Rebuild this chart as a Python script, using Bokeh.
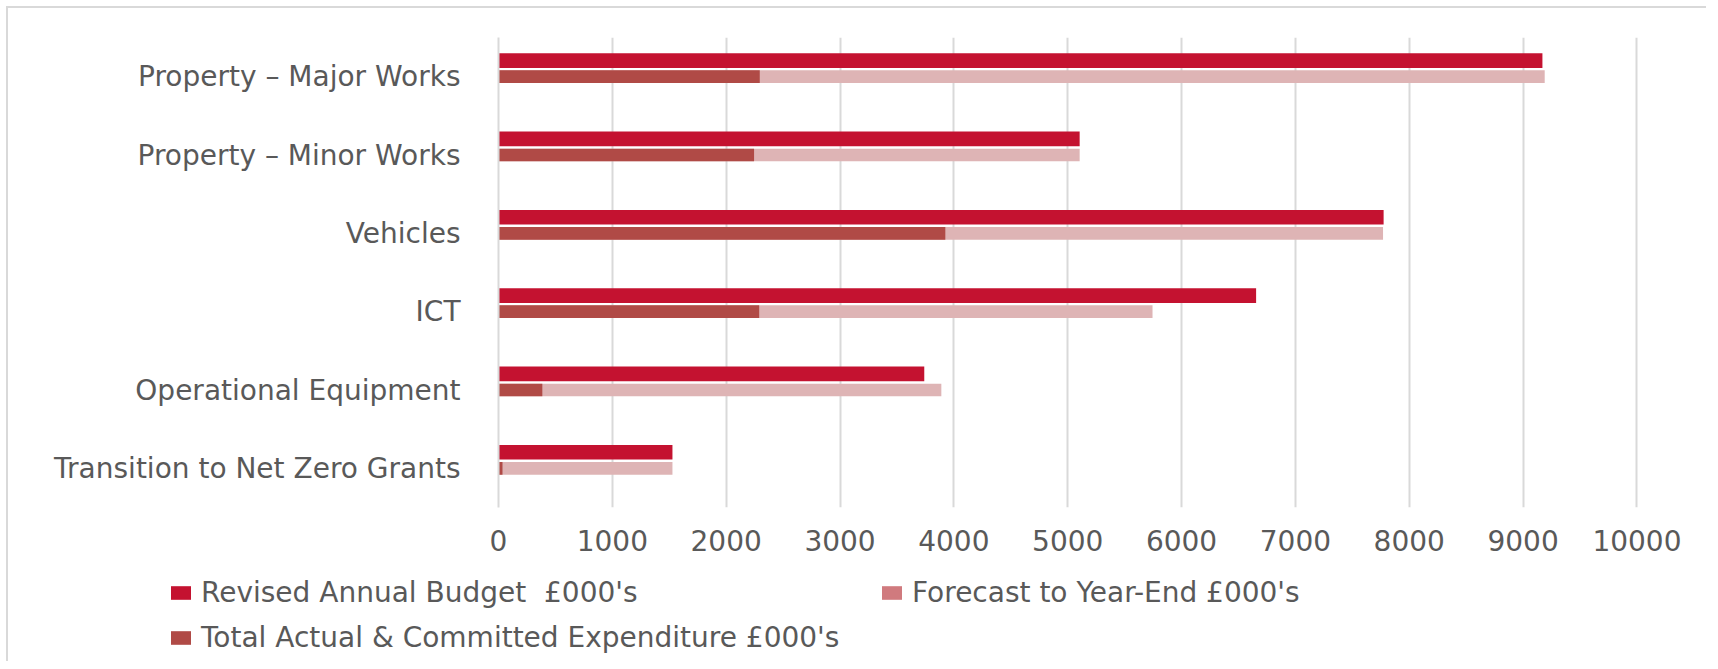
from bokeh.plotting import figure
from bokeh.models import FactorRange, Range1d, FixedTicker, Legend, LegendItem, ColumnDataSource
from bokeh.transform import dodge
from bokeh.embed import file_html
from bokeh.resources import INLINE

# ---- data ----
categories = [
    "Property – Major Works",
    "Property – Minor Works",
    "Vehicles",
    "ICT",
    "Operational Equipment",
    "Transition to Net Zero Grants",
]
budget = [9170, 5105, 7775, 6655, 3740, 1528]
forecast = [9190, 5105, 7770, 5745, 3890, 1528]
actual = [2295, 2245, 3925, 2290, 385, 35]
tick_values = [0, 1000, 2000, 3000, 4000, 5000, 6000, 7000, 8000, 9000, 10000]
series_names = [
    "Revised Annual Budget  £000's",
    "Forecast to Year-End £000's",
    "Total Actual & Committed Expenditure £000's",
]

# ---- style ----
FONT = "DejaVu Sans"
FSIZE = "28px"
TEXT = "#595959"
GRID = "#D9D9D9"
C_BUDGET = "#C41230"
C_FORECAST = "#DEB4B5"
C_FORECAST_KEY = "#D07A7E"
C_ACTUAL = "#B04A46"

src = ColumnDataSource(dict(cat=categories, budget=budget, forecast=forecast, actual=actual))

W, H = 1700, 560
p = figure(
    width=W, height=H,
    y_range=FactorRange(factors=categories[::-1]),
    x_range=Range1d(0, 10541),
    output_backend="svg", toolbar_location=None,
    min_border_left=490, min_border_right=10, min_border_top=29, min_border_bottom=61,
)
p.outline_line_color = None
p.background_fill_color = "white"
p.border_fill_color = "white"
p.styles = {"border-top": "2px solid #D9D9D9", "border-left": "2px solid #D9D9D9",
            "margin-left": "6px", "margin-top": "6px"}

p.hbar(y=dodge("cat", 0.205, range=p.y_range), left=0, right="budget", height=0.187,
       source=src, fill_color=C_BUDGET, line_color=None)
p.hbar(y=dodge("cat", 0.0, range=p.y_range), left=0, right="forecast", height=0.162,
       source=src, fill_color=C_FORECAST, line_color=None)
p.hbar(y=dodge("cat", 0.0, range=p.y_range), left=0, right="actual", height=0.162,
       source=src, fill_color=C_ACTUAL, line_color=None)

# axes
p.xaxis.ticker = FixedTicker(ticks=tick_values)
p.xaxis.axis_line_color = None
p.xaxis.major_tick_line_color = None
p.xaxis.minor_tick_line_color = None
p.xaxis.major_label_standoff = 16
p.xaxis.major_label_text_font = FONT
p.xaxis.major_label_text_font_size = FSIZE
p.xaxis.major_label_text_color = TEXT

p.yaxis.axis_line_color = GRID
p.yaxis.axis_line_width = 2
p.yaxis.major_tick_line_color = None
p.yaxis.minor_tick_line_color = None
p.yaxis.major_label_standoff = 32
p.yaxis.major_label_text_font = FONT
p.yaxis.major_label_text_font_size = FSIZE
p.yaxis.major_label_text_color = TEXT

p.xgrid.ticker = FixedTicker(ticks=tick_values)
p.xgrid.grid_line_color = GRID
p.xgrid.grid_line_width = 2
p.ygrid.grid_line_color = None

# ---- legend strip below the chart (separate root, frame = whole canvas) ----
LW, LH = 1700, 95
pl = figure(width=LW, height=LH, x_range=Range1d(0, LW), y_range=Range1d(0, LH),
            output_backend="svg", toolbar_location=None, min_border=0,
            x_axis_type=None, y_axis_type=None)
pl.outline_line_color = None
pl.xgrid.grid_line_color = None
pl.ygrid.grid_line_color = None
pl.styles = {"border-left": "2px solid #D9D9D9", "margin-left": "6px"}
# key renderers: one point each, placed outside the visible range
k_budget = pl.hbar(y=[-500], left=[0], right=[1], height=1, fill_color=C_BUDGET, line_color=None)
k_fore = pl.hbar(y=[-500], left=[0], right=[1], height=1, fill_color=C_FORECAST_KEY, line_color=None)
k_act = pl.hbar(y=[-500], left=[0], right=[1], height=1, fill_color=C_ACTUAL, line_color=None)


def make_legend(items, loc, label_width):
    lg = Legend(items=items, location=loc, orientation="horizontal")
    lg.padding = 0
    lg.margin = 0
    lg.spacing = 0
    lg.border_line_color = None
    lg.background_fill_alpha = 0
    lg.glyph_width = 25
    lg.glyph_height = 17
    lg.label_standoff = 8
    lg.label_width = label_width
    lg.label_text_font = FONT
    lg.label_text_font_size = FSIZE
    lg.label_text_color = TEXT
    return lg


leg1 = make_legend([LegendItem(label=series_names[0], renderers=[k_budget]),
                    LegendItem(label=series_names[1], renderers=[k_fore])],
                   (160, 52), 678)
leg2 = make_legend([LegendItem(label=series_names[2], renderers=[k_act])],
                   (160, 7), 10)
pl.add_layout(leg1, "center")
pl.add_layout(leg2, "center")

open("out.html", "w").write(file_html([p, pl], INLINE))
